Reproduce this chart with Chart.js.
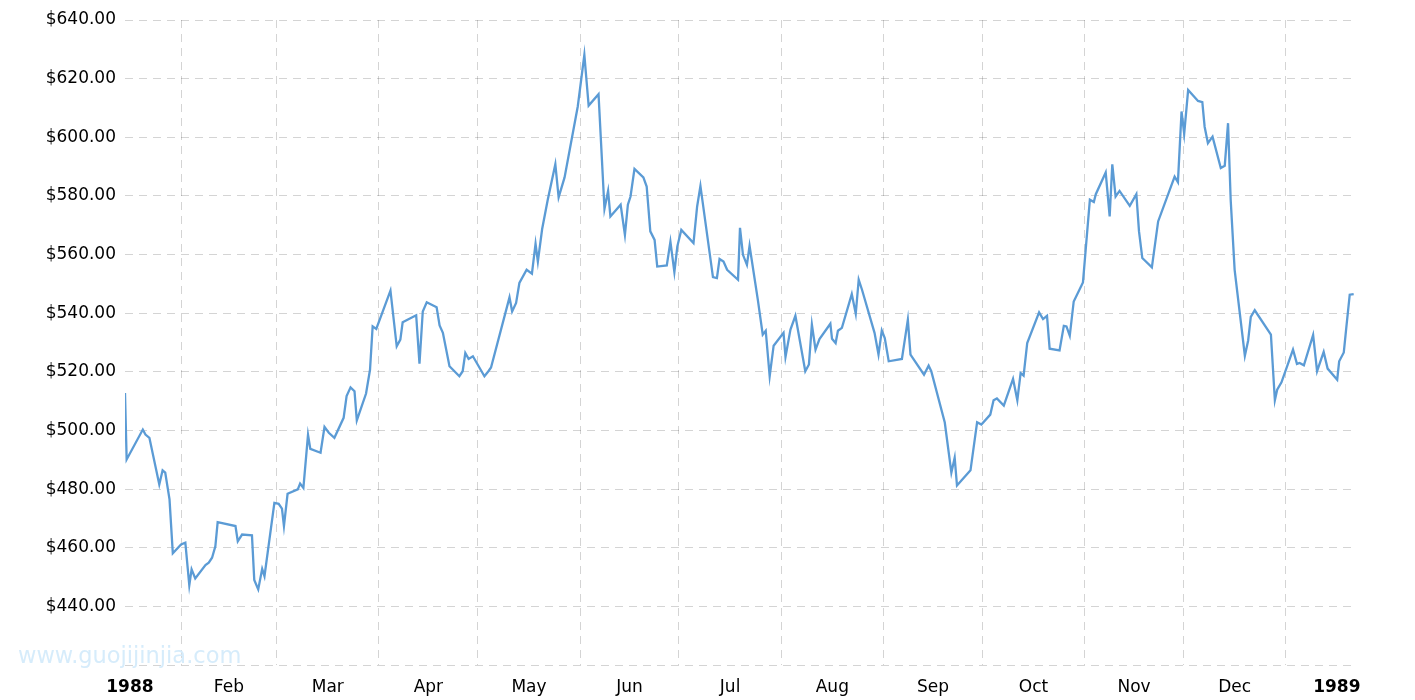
<!DOCTYPE html>
<html>
<head>
<meta charset="utf-8">
<title>Gold price 1988</title>
<script src="https://cdn.jsdelivr.net/npm/chart.js@4.4.1/dist/chart.umd.min.js"></script>
<style>
    html, body { margin: 0; padding: 0; background: #fff; }
    .chart-wrap { position: relative; width: 1415px; height: 700px; }
</style>
</head>
<body>
<div class="chart-wrap"><canvas id="priceChart"></canvas></div>
<script>
// days counted from 1 Jan 1988
const days = [
    14.0, 14.5, 19.4, 20.2, 21.4, 24.4, 25.4, 26.2, 27.5, 28.5, 31.0, 32.3, 33.5, 34.2, 35.3, 38.4, 39.4, 40.4, 41.4, 42.1,
    47.5, 48.2, 49.5, 52.5, 53.2, 54.4, 55.6, 56.3, 59.3, 60.6, 61.6, 62.2, 63.3, 66.4, 67.1, 68.1, 69.5, 70.2, 73.3, 74.5, 75.8,
    77.5, 80.3, 81.2, 82.4, 83.6, 84.3, 87.1, 88.3, 89.1, 90.2, 94.5, 96.4, 97.5, 98.2, 102.3, 103.3, 104.3, 105.5, 108.5, 109.4,
    110.4, 112.4, 115.4, 116.4, 117.2, 118.2, 119.5, 123.0, 124.2, 125.0, 130.6, 131.4, 132.6, 133.6, 135.8, 137.4,
    138.5, 139.2, 140.5, 142.2, 144.5, 145.5, 147.3, 151.3, 153.3, 154.6, 157.6, 159.4, 160.5, 161.2, 164.3, 165.6, 166.5, 167.3, 168.5, 171.2,
    172.2, 173.3, 174.6, 175.4, 178.3, 179.4, 180.6, 181.5, 182.7, 186.4, 187.5, 188.5, 192.3, 193.5, 194.3, 195.5, 196.6, 199.9, 200.5,
    201.4, 202.6, 203.4, 205.9, 207.4, 208.3, 209.5, 210.7, 213.7, 214.3, 215.8, 217.3, 220.3, 221.4, 222.3, 223.4, 224.6, 227.9, 228.4, 229.5,
    230.2, 231.4, 234.4, 235.6, 236.5, 237.5, 241.3, 242.5, 243.5, 244.4, 245.6, 249.6, 251.4, 252.2, 256.3, 257.7, 258.5, 262.6,
    264.6, 265.6, 266.3, 270.4, 272.4, 273.7, 276.4, 277.4, 278.4, 280.5, 283.3, 284.6, 285.6, 286.5, 287.6, 291.2, 292.4, 293.6, 294.4, 297.4,
    298.7, 299.5, 300.5, 301.7, 304.5, 306.6, 307.8, 308.4, 311.4, 312.6, 313.4, 314.4, 315.6, 318.7, 320.7, 321.5, 322.5, 325.4,
    327.3, 332.3, 333.3, 334.4, 335.2, 336.4, 339.4, 340.7, 341.4, 342.4, 343.8, 346.3, 347.5, 348.5, 349.3, 350.5, 353.6, 354.6, 355.4, 356.6,
    361.5, 362.7, 363.4, 364.7, 368.2, 369.4, 370.2, 371.5, 374.3, 375.5, 377.5, 378.7, 381.6, 382.2, 383.6, 384.4, 385.4, 386.6
];

const prices = [
    512.8, 490.1, 500.3, 498.6, 497.5, 481.6, 486.4, 485.6, 476.5, 458.1, 461.1, 461.7, 447.2, 452.6, 449.5, 454.1, 454.9, 456.6, 460.5, 468.7,
    467.4, 462.2, 464.5, 464.2, 449.0, 445.8, 452.8, 450.3, 475.3, 475.0, 473.3, 467.4, 478.4, 479.9, 481.9, 480.4, 498.5, 493.7, 492.4, 501.2, 499.2,
    497.5, 504.3, 511.7, 514.7, 513.4, 503.4, 512.6, 520.7, 535.5, 534.6, 547.7, 528.7, 531.0, 536.9, 539.3, 522.8, 540.6, 543.7, 542.0, 535.8,
    533.3, 521.9, 518.5, 520.2, 526.4, 524.4, 525.3, 518.5, 520.2, 521.5, 545.4, 540.6, 543.5, 550.3, 554.8, 553.5,
    563.7, 557.6, 568.7, 578.7, 590.8, 579.5, 586.3, 610.5, 628.1, 610.8, 614.7, 575.6, 581.7, 573.0, 577.0, 566.7, 577.0, 579.8, 589.2, 586.3,
    583.2, 567.9, 565.0, 555.9, 556.3, 564.4, 554.0, 562.8, 568.4, 563.9, 576.4, 583.4, 552.3, 552.0, 558.5, 557.6, 554.8, 551.4, 569.1,
    559.9, 556.5, 563.0, 544.6, 532.7, 534.0, 518.5, 528.9, 533.3, 525.1, 534.4, 539.1, 520.2, 522.5, 536.1, 527.6, 531.2, 536.4, 531.3, 529.8,
    534.0, 535.0, 546.5, 539.8, 551.4, 548.0, 533.3, 525.9, 534.1, 531.5, 523.6, 524.4, 537.8, 525.9, 519.0, 522.1, 520.2, 502.7,
    485.6, 490.7, 481.2, 486.4, 502.8, 502.0, 505.4, 510.3, 510.9, 508.5, 517.6, 510.3, 519.6, 518.7, 529.8, 540.3, 538.0, 539.1, 527.9, 527.3,
    535.7, 535.5, 532.3, 544.0, 550.5, 578.7, 577.9, 580.6, 588.0, 573.0, 590.8, 579.8, 581.7, 576.6, 580.6, 567.9, 558.8, 555.6,
    571.3, 586.6, 584.7, 608.8, 601.2, 616.1, 612.4, 612.0, 603.6, 598.0, 600.2, 589.5, 590.3, 604.8, 578.7, 554.8, 525.5, 530.7, 538.7, 541.0,
    532.7, 510.3, 513.9, 516.4, 527.6, 522.7, 523.0, 522.2, 532.6, 520.2, 526.8, 521.1, 517.3, 523.6, 526.6, 535.5, 546.3, 546.5
];

// first day of each month (grid lines) and the month labels (centred mid-month)
const monthStarts = [31, 60, 91, 121, 152, 182, 213, 244, 274, 305, 335, 366];
const monthMids = [15.5, 45.5, 75.5, 106, 136.5, 167, 197.5, 228.5, 259, 289.5, 320, 350.5, 381.5];
const monthLabels = ['1988', 'Feb', 'Mar', 'Apr', 'May', 'Jun', 'Jul', 'Aug', 'Sep', 'Oct', 'Nov', 'Dec', '1989'];

const yTicks = [420, 440, 460, 480, 500, 520, 540, 560, 580, 600, 620, 640];

const gridColor = 'rgba(0,0,0,0.17)';
const gridDash = [8, 6];

Chart.defaults.font.family = "'DejaVu Sans', Verdana, sans-serif";
Chart.defaults.font.size = 17;
Chart.defaults.color = '#000';

const watermark = {
    id: 'watermark',
    beforeDatasetsDraw(chart) {
        const ctx = chart.ctx;
        ctx.save();
        ctx.font = "22.5px 'DejaVu Sans', sans-serif";
        ctx.fillStyle = '#d6ecfb';
        ctx.textBaseline = 'alphabetic';
        ctx.fillText('www.guojijinjia.com', 18, 663);
        ctx.restore();
    }
};

const ctx = document.getElementById('priceChart').getContext('2d');
new Chart(ctx, {
    type: 'line',
    data: {
        datasets: [{
            data: days.map((d, i) => ({ x: d, y: prices[i] })),
            borderColor: '#5b9bd5',
            borderWidth: 2.3,
            pointRadius: 0,
            tension: 0,
            fill: false
        }]
    },
    options: {
        responsive: true,
        maintainAspectRatio: false,
        animation: false,
        layout: { padding: { top: 20, right: 60, left: 0, bottom: 0 } },
        plugins: {
            legend: { display: false },
            tooltip: { enabled: false }
        },
        scales: {
            x: {
                type: 'linear',
                position: 'bottom',
                min: 14,
                max: 387,
                afterBuildTicks: axis => { axis.ticks = monthStarts.map(v => ({ value: v })); },
                afterFit: axis => { axis.height = 0; },
                ticks: { display: false },
                grid: { color: gridColor, drawTicks: false },
                border: { display: false, dash: gridDash }
            },
            xLabels: {
                type: 'linear',
                position: 'bottom',
                min: 14,
                max: 387,
                afterBuildTicks: axis => { axis.ticks = monthMids.map(v => ({ value: v })); },
                afterFit: axis => { axis.height = 35; },
                ticks: {
                    autoSkip: false,
                    maxRotation: 0,
                    padding: 12,
                    callback: (v, i) => monthLabels[i],
                    font: c => ({ weight: (c.index === 0 || c.index === monthLabels.length - 1) ? 'bold' : 'normal' })
                },
                grid: { display: false, drawTicks: false },
                border: { display: false }
            },
            y: {
                min: 420,
                max: 640,
                afterBuildTicks: axis => { axis.ticks = yTicks.map(v => ({ value: v })); },
                afterFit: axis => { axis.width = 125; },
                ticks: {
                    padding: 9,
                    callback: v => v === 420 ? '' : '$' + v.toFixed(2)
                },
                grid: { color: gridColor, drawTicks: false },
                border: { display: false, dash: gridDash }
            }
        }
    },
    plugins: [watermark]
});
</script>
</body>
</html>
